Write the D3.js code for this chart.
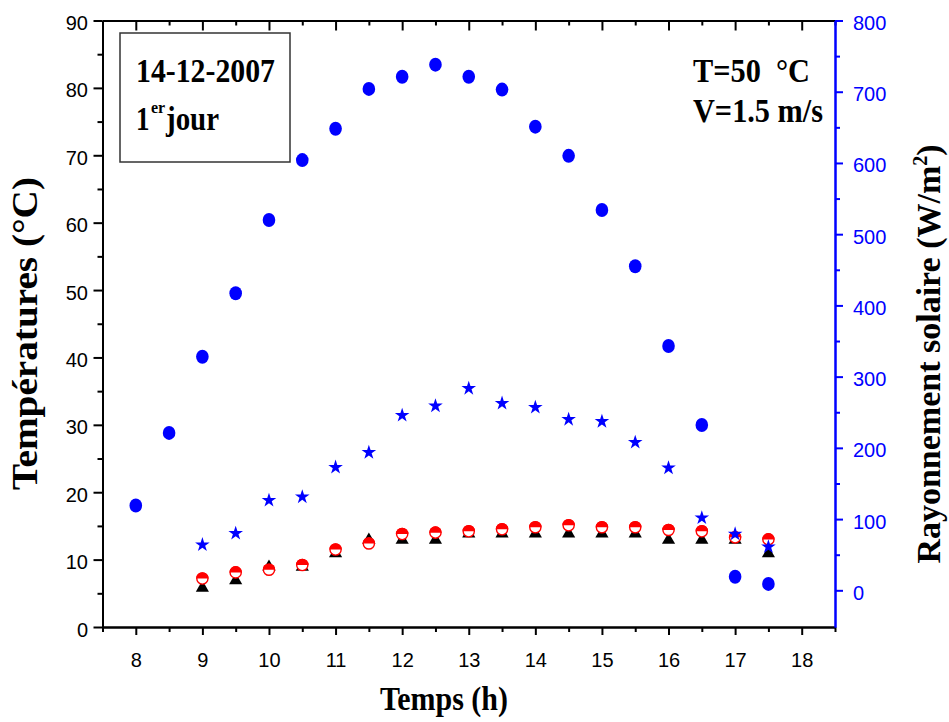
<!DOCTYPE html>
<html>
<head>
<meta charset="utf-8">
<script src="https://cdn.jsdelivr.net/npm/d3@7"></script>
<style>
  body { margin: 0; background: #fff; }
  text { font-family: "Liberation Sans", Arial, sans-serif; }
  .serif { font-family: "Liberation Serif", "Times New Roman", serif; font-weight: bold; }
</style>
</head>
<body>
<script>
// heures de mesure
var hours = [8, 8.5, 9, 9.5, 10, 10.5, 11, 11.5, 12, 12.5, 13, 13.5, 14, 14.5, 15, 15.5, 16, 16.5, 17, 17.5];
// rayonnement solaire (W/m2), axe de droite
var rayonnement = [119, 221, 328, 417, 520, 604, 648, 704, 721, 738, 721, 703, 651, 610, 534, 455, 343, 232, 19, 9];

var hoursT = [9, 9.5, 10, 10.5, 11, 11.5, 12, 12.5, 13, 13.5, 14, 14.5, 15, 15.5, 16, 16.5, 17, 17.5];
// temperatures (°C), axe de gauche
var tEtoile   = [12.2, 13.9, 18.8, 19.3, 23.7, 25.9, 31.4, 32.8, 35.4, 33.2, 32.6, 30.8, 30.5, 27.4, 23.6, 16.2, 13.8, 11.9];
var tCercle   = [7.2, 8.1, 8.5, 9.2, 11.5, 12.4, 13.8, 14.0, 14.2, 14.5, 14.8, 15.1, 14.8, 14.8, 14.4, 14.2, 13.3, 13.0];
var tTriangle = [5.8, 6.9, 8.9, 8.9, 10.9, 12.9, 12.9, 12.9, 13.85, 13.85, 13.85, 13.85, 13.85, 13.85, 12.9, 12.9, 12.9, 10.9];

var xTicks = [8, 9, 10, 11, 12, 13, 14, 15, 16, 17, 18];
var yTicks = [0, 10, 20, 30, 40, 50, 60, 70, 80, 90];
var rTicks = [0, 100, 200, 300, 400, 500, 600, 700, 800];

var w = 949, h = 722;
var svg = d3.select('body').append('svg')
    .attr('width', w)
    .attr('height', h);

var x = d3.scaleLinear().domain([7.5, 18.5]).range([102.5, 835]);
var y = d3.scaleLinear().domain([0, 90]).range([627, 20.5]);
var yR = d3.scaleLinear().domain([-51.5, 800]).range([627, 20.5]);

var xMinor = d3.range(7.5, 18.51, 0.5).filter(function (d) { return d % 1 !== 0; });
var yMinor = d3.range(5, 90, 10);
var rMinor = d3.range(50, 800, 100);

// axe du bas
svg.append('g').attr('transform', 'translate(0,627)')
    .call(d3.axisBottom(x).tickValues(xMinor).tickSize(5).tickSizeOuter(0).tickFormat(''));
var gx = svg.append('g').attr('transform', 'translate(0,627)')
    .call(d3.axisBottom(x).tickValues(xTicks).tickSize(8).tickSizeOuter(0));
gx.selectAll('text').attr('y', 40).attr('dy', null).attr('font-size', 20).attr('fill', '#000');

// axe du haut (ticks vers l'interieur)
svg.append('g').attr('transform', 'translate(0,20.5)')
    .call(d3.axisTop(x).tickValues(xMinor).tickSize(-5).tickSizeOuter(0).tickFormat(''));
svg.append('g').attr('transform', 'translate(0,20.5)')
    .call(d3.axisTop(x).tickValues(xTicks).tickSize(-10).tickSizeOuter(0).tickFormat(''));

// axe de gauche
svg.append('g').attr('transform', 'translate(102.5,0)')
    .call(d3.axisLeft(y).tickValues(yMinor).tickSize(5).tickSizeOuter(0).tickFormat(''));
var gy = svg.append('g').attr('transform', 'translate(102.5,0)')
    .call(d3.axisLeft(y).tickValues(yTicks).tickSize(9).tickPadding(5.5).tickSizeOuter(0));
gy.selectAll('text').attr('dy', '0.45em').attr('font-size', 20).attr('fill', '#000');

// axe de droite (bleu)
svg.append('g').attr('class', 'right').attr('transform', 'translate(835,0)')
    .call(d3.axisRight(yR).tickValues(rMinor).tickSize(5).tickSizeOuter(0).tickFormat(''));
var gr = svg.append('g').attr('class', 'right').attr('transform', 'translate(835,0)')
    .call(d3.axisRight(yR).tickValues(rTicks).tickSize(8).tickPadding(10).tickSizeOuter(0));
gr.selectAll('text').attr('dy', '0.45em').attr('font-size', 20).attr('fill', '#0000ff');

svg.selectAll('.domain, .tick line').attr('stroke', '#000').attr('stroke-width', 2);
svg.selectAll('.right .domain, .right .tick line').attr('stroke', '#0000ff');

// triangles noirs
svg.selectAll('path.tri').data(tTriangle).enter().append('path')
    .attr('class', 'tri')
    .attr('d', d3.symbol(d3.symbolTriangle, 75))
    .attr('transform', function (d, i) { return 'translate(' + x(hoursT[i]) + ',' + y(d) + ')'; })
    .attr('fill', '#000');

// cercles rouges a moitie pleins
var cer = svg.selectAll('g.cer').data(tCercle).enter().append('g')
    .attr('class', 'cer')
    .attr('transform', function (d, i) { return 'translate(' + x(hoursT[i]) + ',' + y(d) + ')'; });
cer.append('circle').attr('r', 5.6).attr('fill', '#fff').attr('stroke', '#ff0000').attr('stroke-width', 1.4);
cer.append('path').attr('d', 'M-6.3,0A6.3,6.3 0 0 1 6.3,0Z').attr('fill', '#ff0000');

// etoiles bleues
svg.selectAll('path.star').data(tEtoile).enter().append('path')
    .attr('class', 'star')
    .attr('d', d3.symbol(d3.symbolStar, 66))
    .attr('transform', function (d, i) { return 'translate(' + x(hoursT[i]) + ',' + y(d) + ')'; })
    .attr('fill', '#0000ff');

// rayonnement : points bleus
svg.selectAll('ellipse').data(rayonnement).enter().append('ellipse')
    .attr('cx', function (d, i) { return x(hours[i]); })
    .attr('cy', function (d) { return yR(d); })
    .attr('rx', 6.3).attr('ry', 7)
    .attr('fill', '#0000ff');

// titres des axes
svg.append('text').attr('class', 'serif')
    .attr('x', 380).attr('y', 710)
    .attr('font-size', 33).attr('textLength', 128).attr('lengthAdjust', 'spacingAndGlyphs')
    .text('Temps (h)');

svg.append('text').attr('class', 'serif')
    .attr('transform', 'translate(37,490) rotate(-90)')
    .attr('font-size', 35)
    .attr('textLength', 313).attr('lengthAdjust', 'spacingAndGlyphs')
    .text('Températures (°C)');

var tr = svg.append('text').attr('class', 'serif')
    .attr('transform', 'translate(940,354) rotate(-90)')
    .attr('text-anchor', 'middle')
    .attr('font-size', 34);
tr.append('tspan').text('Rayonnement solaire (W/m');
tr.append('tspan').attr('dy', -13).attr('font-size', 20).text('2');
tr.append('tspan').attr('dy', 13).text(')');

// encadre date
svg.append('rect').attr('x', 120).attr('y', 33).attr('width', 170).attr('height', 129)
    .attr('fill', 'none').attr('stroke', '#333').attr('stroke-width', 1.5);
svg.append('text').attr('class', 'serif')
    .attr('x', 136).attr('y', 82).attr('font-size', 33)
    .attr('textLength', 139).attr('lengthAdjust', 'spacingAndGlyphs')
    .text('14-12-2007');
svg.append('text').attr('class', 'serif')
    .attr('x', 136).attr('y', 130).attr('font-size', 33)
    .attr('textLength', 13.5).attr('lengthAdjust', 'spacingAndGlyphs')
    .text('1');
svg.append('text').attr('class', 'serif')
    .attr('x', 151).attr('y', 113).attr('font-size', 16)
    .text('er');
svg.append('text').attr('class', 'serif')
    .attr('x', 166).attr('y', 130).attr('font-size', 33)
    .attr('textLength', 53).attr('lengthAdjust', 'spacingAndGlyphs')
    .text('jour');

// conditions
svg.append('text').attr('class', 'serif')
    .attr('x', 693).attr('y', 82).attr('font-size', 33)
    .attr('textLength', 117).attr('lengthAdjust', 'spacingAndGlyphs')
    .style('white-space', 'pre')
    .text('T=50  °C');
svg.append('text').attr('class', 'serif')
    .attr('x', 693).attr('y', 122).attr('font-size', 33)
    .attr('textLength', 130).attr('lengthAdjust', 'spacingAndGlyphs')
    .text('V=1.5 m/s');
</script>
</body>
</html>
